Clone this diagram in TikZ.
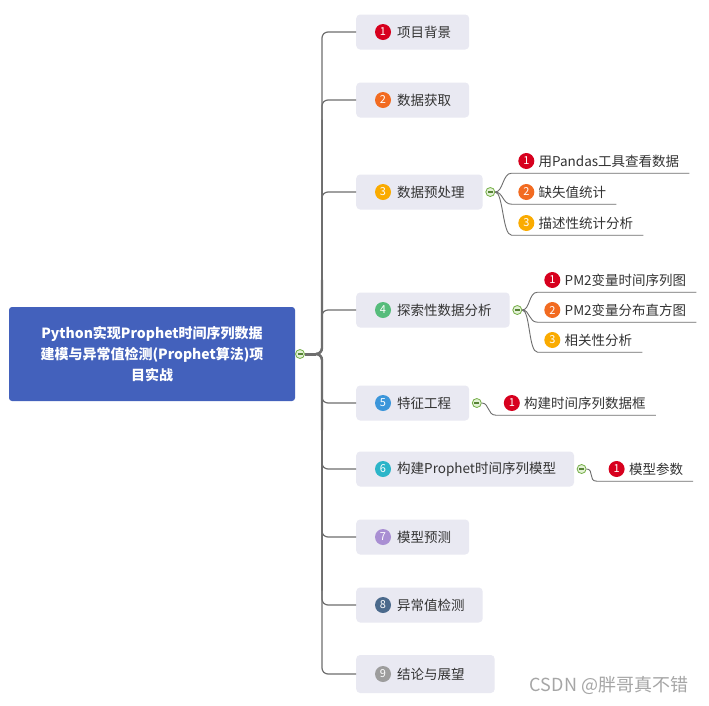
\documentclass[tikz,border=0pt]{standalone}
\usepackage{fontspec}
\setmainfont{Noto Sans CJK SC}
\usepackage{xcolor}
\usepackage{tikz}
\usetikzlibrary{positioning}
\definecolor{rootblue}{HTML}{4361BC}
\definecolor{boxgray}{HTML}{E9E9F2}
\definecolor{linegray}{HTML}{6E6E6E}
\definecolor{txtgray}{HTML}{333333}
\definecolor{foldgreen}{HTML}{74AE46}
\definecolor{foldfill}{HTML}{E3F1D6}
\definecolor{numred}{HTML}{D7001E}
\definecolor{numorange}{HTML}{F26B21}
\definecolor{numyellow}{HTML}{FAAB00}
\definecolor{numgreen}{HTML}{56BC7B}
\definecolor{numblue}{HTML}{3C96DA}
\definecolor{numteal}{HTML}{2CB5C9}
\definecolor{numpurple}{HTML}{A98FD3}
\definecolor{numnavy}{HTML}{4B6A8C}
\definecolor{numgray}{HTML}{9D9D9D}
\newcommand\pad{\hspace*{23pt}}
\newcommand\minus{\textcolor{foldgreen!75!black}{\rule{5pt}{1.1pt}}}

\tikzset{
  rootnode/.style={fill=rootblue, rounded corners=3pt, minimum width=286pt,
    minimum height=94pt, align=center, text=white,
    font=\fontsize{14}{21}\selectfont\bfseries},
  mainbox/.style={anchor=west, fill=boxgray, rounded corners=4pt,
    minimum height=35pt, inner xsep=18pt, text=txtgray,
    font=\fontsize{13.5}{16}\selectfont},
  badge/.style={circle, inner sep=0pt, minimum size=16pt, text=white,
    font=\fontsize{11}{11}\selectfont},
  fold/.style={circle, draw=foldgreen, fill=foldfill, inner sep=0pt,
    minimum size=9pt, line width=0.8pt},
  subtext/.style={anchor=west, inner xsep=0pt, inner ysep=0pt,
    minimum height=24pt, text=txtgray, font=\fontsize{13.5}{16}\selectfont},
  branch/.style={draw=linegray, line width=1.2pt, rounded corners=6pt},
  subline/.style={draw=linegray, line width=0.9pt},
}

\begin{document}
\begin{tikzpicture}[x=1pt,y=-1pt]
  \useasboundingbox[fill=white] (0,0) rectangle (709,705);

  % central topic
  \node[rootnode] (root) at (152,354)
    {Python实现Prophet时间序列数据\\建模与异常值检测(Prophet算法)项\\目实战};
  \coordinate (hub) at (316,354);

  % main topics
  \node[mainbox] (m1) at (356,32) {\pad 项目背景};
  \node[mainbox] (m2) at (356,100) {\pad 数据获取};
  \node[mainbox] (m3) at (356,192) {\pad 数据预处理};
  \node[mainbox] (m4) at (356,310) {\pad 探索性数据分析};
  \node[mainbox] (m5) at (356,403) {\pad 特征工程};
  \node[mainbox] (m6) at (356,469) {\pad 构建Prophet时间序列模型};
  \node[mainbox] (m7) at (356,537) {\pad 模型预测};
  \node[mainbox] (m8) at (356,605) {\pad 异常值检测};
  \node[mainbox, minimum height=38pt] (m9) at (356,674) {\pad 结论与展望\hspace*{12pt}};

  \node[badge, fill=numred] (b1) at ([xshift=27pt]m1.west) {1};
  \node[badge, fill=numorange] (b2) at ([xshift=27pt]m2.west) {2};
  \node[badge, fill=numyellow] (b3) at ([xshift=27pt]m3.west) {3};
  \node[badge, fill=numgreen] (b4) at ([xshift=27pt]m4.west) {4};
  \node[badge, fill=numblue] (b5) at ([xshift=27pt]m5.west) {5};
  \node[badge, fill=numteal] (b6) at ([xshift=27pt]m6.west) {6};
  \node[badge, fill=numpurple] (b7) at ([xshift=27pt]m7.west) {7};
  \node[badge, fill=numnavy] (b8) at ([xshift=27pt]m8.west) {8};
  \node[badge, fill=numgray] (b9) at ([xshift=27pt]m9.west) {9};

  % trunk
  \draw[branch] (hub) -| ([xshift=-34pt]m1.west) -- (m1.west);
  \draw[branch] (hub) -| ([xshift=-34pt]m2.west) -- (m2.west);
  \draw[branch] (hub) -| ([xshift=-34pt]m3.west) -- (m3.west);
  \draw[branch] (hub) -| ([xshift=-34pt]m4.west) -- (m4.west);
  \draw[branch] (hub) -| ([xshift=-34pt]m5.west) -- (m5.west);
  \draw[branch] (hub) -| ([xshift=-34pt]m6.west) -- (m6.west);
  \draw[branch] (hub) -| ([xshift=-34pt]m7.west) -- (m7.west);
  \draw[branch] (hub) -| ([xshift=-34pt]m8.west) -- (m8.west);
  \draw[branch] (hub) -| ([xshift=-34pt]m9.west) -- (m9.west);
  \draw[branch, line width=1.5pt, line cap=round] (hub) -| (322,120);
  \draw[branch, line width=1.5pt, line cap=round] (hub) -| (322,590);
  \draw[branch, line width=1.9pt, line cap=round] (hub) -| (322,200);
  \draw[branch, line width=1.9pt, line cap=round] (hub) -| (322,510);
  \draw[branch, line width=2.4pt, line cap=round] (hub) -| (322,280);
  \draw[branch, line width=2.4pt, line cap=round] (hub) -| (322,430);
  \node[fold] (k0) at (300,354) {\minus};
  \draw[branch, line width=3pt] (k0.east) -- (hub);

  % subtopics of 3
  \node[fold, right=2.5pt of m3] (k3) {\minus};
  \node[badge, fill=numred] (b31) at ([xshift=36pt,yshift=31pt]k3.center) {1};
  \node[subtext, right=4pt of b31] (t31) {用Pandas工具查看数据};
  \node[badge, fill=numorange] (b32) at ([xshift=36pt]k3.center) {2};
  \node[subtext, right=4pt of b32] (t32) {缺失值统计};
  \node[badge, fill=numyellow] (b33) at ([xshift=36pt,yshift=-31pt]k3.center) {3};
  \node[subtext, right=4pt of b33] (t33) {描述性统计分析};
  \draw[subline] (k3.east) .. controls +(8,0) and +(-9,0) .. ([xshift=-27pt]t31.south west) -- ([xshift=10pt]t31.south east);
  \draw[subline] (k3.east) .. controls +(8,0) and +(-9,0) .. ([xshift=-27pt]t32.south west) -- ([xshift=10pt]t32.south east);
  \draw[subline] (k3.east) .. controls +(8,0) and +(-9,0) .. ([xshift=-27pt]t33.south west) -- ([xshift=10pt]t33.south east);

  % subtopics of 4
  \node[fold, right=2.5pt of m4] (k4) {\minus};
  \node[badge, fill=numred] (b41) at ([xshift=35pt,yshift=30pt]k4.center) {1};
  \node[subtext, right=4pt of b41] (t41) {PM2变量时间序列图};
  \node[badge, fill=numorange] (b42) at ([xshift=35pt]k4.center) {2};
  \node[subtext, right=4pt of b42] (t42) {PM2变量分布直方图};
  \node[badge, fill=numyellow] (b43) at ([xshift=35pt,yshift=-30pt]k4.center) {3};
  \node[subtext, right=4pt of b43] (t43) {相关性分析};
  \draw[subline] (k4.east) .. controls +(8,0) and +(-9,0) .. ([xshift=-27pt]t41.south west) -- ([xshift=10pt]t41.south east);
  \draw[subline] (k4.east) .. controls +(8,0) and +(-9,0) .. ([xshift=-27pt]t42.south west) -- ([xshift=10pt]t42.south east);
  \draw[subline] (k4.east) .. controls +(8,0) and +(-9,0) .. ([xshift=-27pt]t43.south west) -- ([xshift=10pt]t43.south east);

  % subtopic of 5
  \node[fold, right=2.5pt of m5] (k5) {\minus};
  \node[badge, fill=numred] (b51) at ([xshift=35pt]k5.center) {1};
  \node[subtext, right=4pt of b51] (t51) {构建时间序列数据框};
  \draw[subline] (k5.east) .. controls +(8,0) and +(-9,0) .. ([xshift=-28pt]t51.south west) -- ([xshift=10pt]t51.south east);

  % subtopic of 6
  \node[fold, right=2.5pt of m6] (k6) {\minus};
  \node[badge, fill=numred] (b61) at ([xshift=35pt]k6.center) {1};
  \node[subtext, right=4pt of b61] (t61) {模型参数};
  \draw[subline] (k6.east) .. controls +(8,0) and +(-9,0) .. ([xshift=-32pt]t61.south west) -- ([xshift=10pt]t61.south east);

  % watermark
  \node[text=black!35, font=\fontsize{18}{18}\selectfont] (wm) at (609,685) {CSDN @胖哥真不错};
\end{tikzpicture}
\end{document}
